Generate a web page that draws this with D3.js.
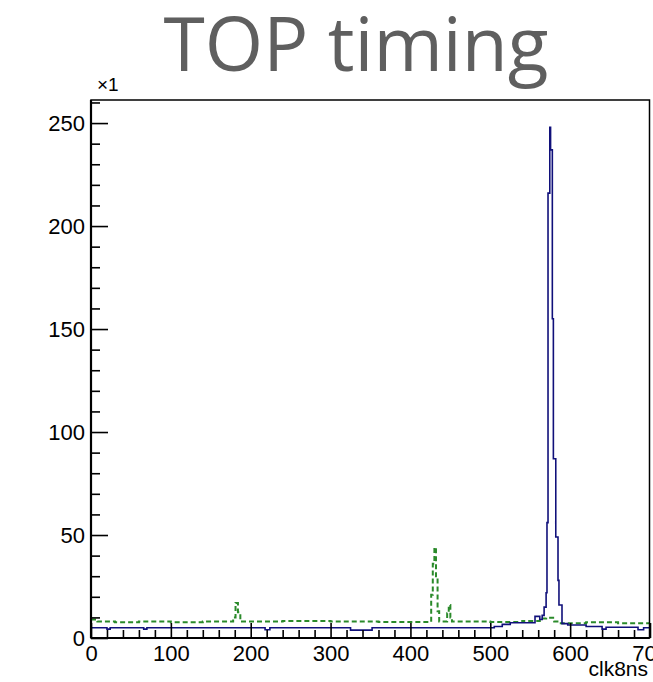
<!DOCTYPE html>
<html>
<head>
<meta charset="utf-8">
<script src="https://cdn.jsdelivr.net/npm/d3@7"></script>
<style>
  html, body { margin: 0; padding: 0; background: #fff; }
  svg { display: block; }
</style>
</head>
<body>
<svg id="chart" width="653" height="682"></svg>
<script>
// ---- data (step histograms: bin edges and counts) ----
const blueEdges = [0, 20, 24, 66, 70, 218, 224, 325, 352, 505, 515, 525, 556, 562, 565, 567.4, 569.9, 571, 572.3, 574.5, 575.5, 577.7, 579, 582, 584.8, 586, 589.8, 597, 620, 640, 645, 685, 692, 700];
const blueCounts = [5, 4.3, 5, 4.3, 5, 4, 5, 3.8, 5, 5.6, 6.6, 7.4, 10.5, 9, 11, 15, 22, 56, 216, 248, 237, 155, 87, 49, 28, 16, 7, 6.3, 5.6, 4.3, 5.2, 4, 5];

const greenEdges = [0, 8, 30, 60, 100, 140, 178, 181, 184, 187, 240, 300, 360, 426, 428, 430, 432, 434, 436, 446, 448, 450, 452, 500, 540, 562, 570, 580, 586, 620, 660, 700];
const greenCounts = [9, 8, 7.6, 8, 7.7, 8, 10, 17, 12.5, 8, 8.3, 8, 7.8, 21, 36, 44, 30, 13, 8, 12, 16, 10, 8, 7.8, 8.3, 9.5, 9.8, 8, 7.2, 7.6, 7.2];

const xMajorTicks = [0, 100, 200, 300, 400, 500, 600, 700];
const yMajorTicks = [0, 50, 100, 150, 200, 250];
const titleText = "TOP timing";
const xTitle = "clk8ns";
const yMultiplier = "\u00d71";

// ---- layout ----
const svg = d3.select("#chart");
const L = 91, R = 649.5, T = 100, B = 638;
const x = d3.scaleLinear().domain([0, 700]).range([L, R + 0.5]);
const y = d3.scaleLinear().domain([0, 261.2]).range([B, T]);

svg.append("rect").attr("width", 653).attr("height", 682).attr("fill", "#fff");

// title
svg.append("text")
  .attr("x", 356).attr("y", 71)
  .attr("text-anchor", "middle")
  .attr("font-family", "'Open Sans', sans-serif")
  .attr("font-size", 75)
  .attr("fill", "#5f5f5f")
  .text(titleText);

// clip
svg.append("clipPath").attr("id", "plotclip")
  .append("rect").attr("x", L).attr("y", T).attr("width", R - L).attr("height", B - T);

function stepPoints(edges, counts) {
  const pts = counts.map((c, i) => [edges[i], c]);
  pts.push([edges[edges.length - 1], counts[counts.length - 1]]);
  return pts;
}
const line = d3.line().x(d => x(d[0])).y(d => y(d[1])).curve(d3.curveStepAfter);

const g = svg.append("g").attr("clip-path", "url(#plotclip)");
g.append("path")
  .attr("d", line(stepPoints(greenEdges, greenCounts)))
  .attr("fill", "none")
  .attr("stroke", "#2a8a2a")
  .attr("stroke-width", 2)
  .attr("stroke-dasharray", "5,3");
g.append("path")
  .attr("d", line(stepPoints(blueEdges, blueCounts)))
  .attr("fill", "none")
  .attr("stroke", "#10107a")
  .attr("stroke-width", 1.6);

// axes
const fontFam = "'Liberation Sans', Arial, Helvetica, sans-serif";
const xMinor = d3.range(0, 701, 20).filter(v => v % 100 !== 0);
const yMinor = d3.range(0, 261, 10).filter(v => v % 50 !== 0);

const xAxis = svg.append("g").attr("transform", `translate(0,${B})`)
  .call(d3.axisBottom(x).tickValues(xMajorTicks).tickSize(-15).tickPadding(7).tickFormat(d3.format("d")));
const xAxisMinor = svg.append("g").attr("transform", `translate(0,${B})`)
  .call(d3.axisBottom(x).tickValues(xMinor).tickSize(-8).tickFormat(""));
const yAxis = svg.append("g").attr("transform", `translate(${L},0)`)
  .call(d3.axisLeft(y).tickValues(yMajorTicks).tickSize(-17).tickPadding(6).tickFormat(d3.format("d")));
const yAxisMinor = svg.append("g").attr("transform", `translate(${L},0)`)
  .call(d3.axisLeft(y).tickValues(yMinor).tickSize(-9).tickFormat(""));

[xAxis, xAxisMinor, yAxis, yAxisMinor].forEach(a => {
  a.select(".domain").remove();
  a.selectAll(".tick line").attr("stroke", "#000").attr("stroke-width", 1.6);
  a.selectAll(".tick text").attr("font-family", fontFam).attr("font-size", 22).attr("fill", "#000");
});
yAxis.selectAll(".tick text").attr("dy", "0.36em");

// frame
svg.append("rect")
  .attr("x", L).attr("y", T).attr("width", R - L).attr("height", B - T)
  .attr("fill", "none").attr("stroke", "#000").attr("stroke-width", 1.5);
svg.append("line").attr("x1", L).attr("x2", R).attr("y1", B).attr("y2", B).attr("stroke", "#000").attr("stroke-width", 2.2);
svg.append("line").attr("x1", L).attr("x2", L).attr("y1", T).attr("y2", B).attr("stroke", "#000").attr("stroke-width", 2.2);

// x title
svg.append("text")
  .attr("x", 648).attr("y", 676)
  .attr("text-anchor", "end")
  .attr("font-family", fontFam).attr("font-size", 21)
  .attr("fill", "#000")
  .text(xTitle);

// multiplier
svg.append("text")
  .attr("x", 97).attr("y", 91)
  .attr("font-family", fontFam).attr("font-size", 19)
  .attr("fill", "#000")
  .text(yMultiplier);
</script>
</body>
</html>
